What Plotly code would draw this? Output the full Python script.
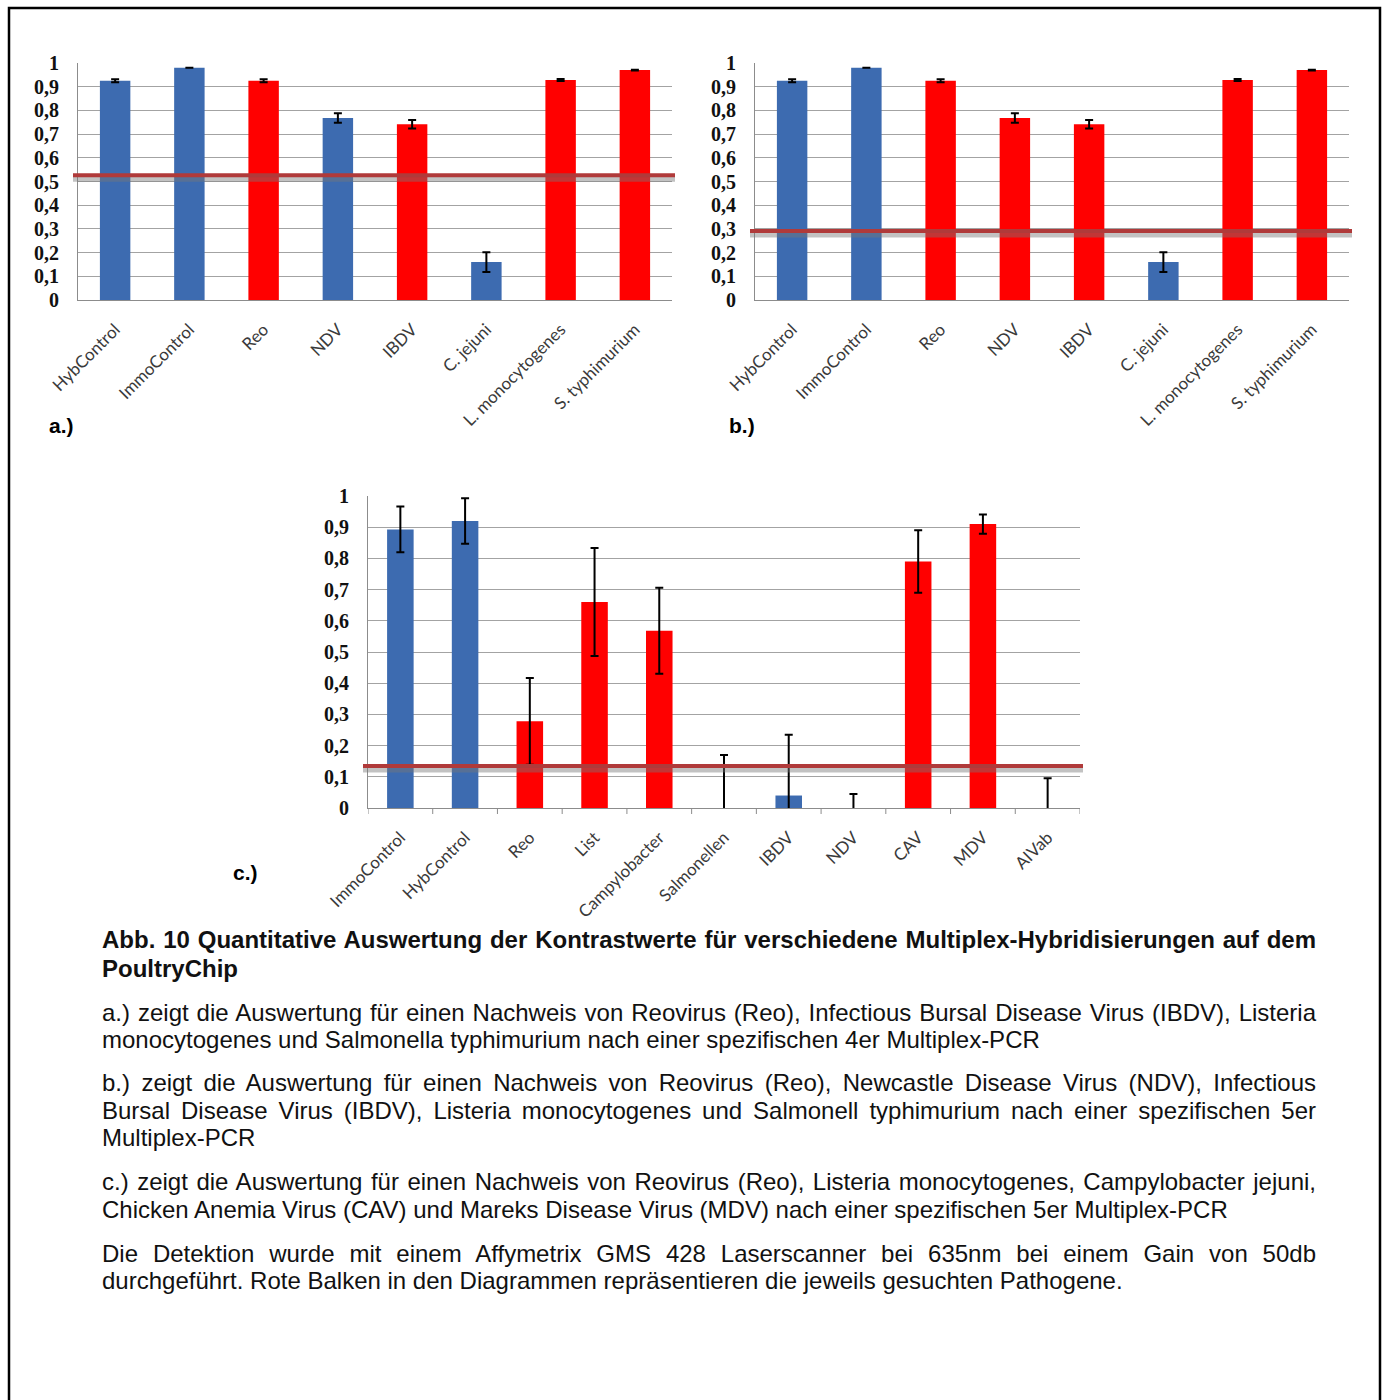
import json
import plotly.graph_objects as go

# ---------------------------------------------------------------- data
cats_ab = ["HybControl", "ImmoControl", "Reo", "NDV", "IBDV", "C. jejuni",
           "L. monocytogenes", "S. typhimurium"]
vals_a = [0.925, 0.980, 0.925, 0.768, 0.742, 0.160, 0.928, 0.970]
errs_a = [0.006, 0.0, 0.006, 0.020, 0.018, 0.042, 0.004, 0.002]
target_a = [False, False, True, False, True, False, True, True]

vals_b = [0.925, 0.980, 0.925, 0.768, 0.742, 0.160, 0.928, 0.970]
errs_b = [0.006, 0.0, 0.006, 0.020, 0.018, 0.042, 0.004, 0.002]
target_b = [False, False, True, True, True, False, True, True]

cats_c = ["ImmoControl", "HybControl", "Reo", "List", "Campylobacter",
          "Salmonellen", "IBDV", "NDV", "CAV", "MDV", "AIVab"]
vals_c = [0.893, 0.920, 0.278, 0.660, 0.568, 0.0, 0.040, 0.0, 0.790, 0.910, 0.0]
errs_c = [0.073, 0.073, 0.139, 0.173, 0.138, 0.170, 0.195, 0.045, 0.100, 0.031, 0.095]
target_c = [False, False, True, True, True, False, False, False, True, True, False]

thresholds = [0.526, 0.291, 0.135]

y_tickvals = [0, 0.1, 0.2, 0.3, 0.4, 0.5, 0.6, 0.7, 0.8, 0.9, 1]
y_ticktext = ["0", "0,1", "0,2", "0,3", "0,4", "0,5", "0,6", "0,7", "0,8", "0,9", "1"]

panel_labels = ["a.)", "b.)", "c.)"]

caption_title = [
    "Abb. 10 Quantitative Auswertung der Kontrastwerte für verschiedene Multiplex-Hybridisierungen auf dem",
    "PoultryChip",
]
caption_paragraphs = [
    ["a.) zeigt die Auswertung für einen Nachweis von Reovirus (Reo), Infectious Bursal Disease Virus (IBDV), Listeria",
     "monocytogenes und Salmonella typhimurium nach einer spezifischen 4er Multiplex-PCR"],
    ["b.) zeigt die Auswertung für einen Nachweis von Reovirus (Reo), Newcastle Disease Virus (NDV), Infectious",
     "Bursal Disease Virus (IBDV), Listeria monocytogenes und Salmonell typhimurium nach einer spezifischen 5er",
     "Multiplex-PCR"],
    ["c.) zeigt die Auswertung für einen Nachweis von Reovirus (Reo), Listeria monocytogenes, Campylobacter jejuni,",
     "Chicken Anemia Virus (CAV) und Mareks Disease Virus (MDV) nach einer spezifischen 5er Multiplex-PCR"],
    ["Die Detektion wurde mit einem Affymetrix GMS 428 Laserscanner bei 635nm bei einem Gain von 50db",
     "durchgeführt. Rote Balken in den Diagrammen repräsentieren die jeweils gesuchten Pathogene."],
]

# ---------------------------------------------------------------- layout helpers
W, H = 1383, 1400
BLUE = "#3D6BB0"
RED = "#FF0000"
LINE_RED = "#B03A3A"
GRID = "#A3A3A3"
AXIS = "#8C8C8C"
CAPTION_SIZE = 24


def fx(px):
    return px / W


def fy(py):
    return 1 - py / H


# plot boxes in pixels: (left, right, top, bottom)
boxes = [(78, 672, 63, 300), (755, 1349, 63, 300), (368, 1080, 496, 808)]
panels = [
    (cats_ab, vals_a, errs_a, target_a),
    (cats_ab, vals_b, errs_b, target_b),
    (cats_c, vals_c, errs_c, target_c),
]

fig = go.Figure()
shapes = []
annotations = []

for i, ((cats, vals, errs, tgt), (l, r, t, b)) in enumerate(zip(panels, boxes)):
    sfx = "" if i == 0 else str(i + 1)
    xa, ya = "x" + sfx, "y" + sfx
    fig.add_trace(go.Bar(
        x=list(range(len(cats))), y=vals,
        xaxis=xa, yaxis=ya,
        width=0.41,
        marker=dict(color=[RED if f else BLUE for f in tgt], line=dict(width=0)),
        error_y=dict(type="data", array=errs, visible=True, color="black",
                     thickness=2, width=4),
        showlegend=False, hoverinfo="skip",
    ))
    axis_common = dict(showline=True, linecolor=AXIS, linewidth=1, mirror=False,
                       automargin=False, fixedrange=True)
    fig.layout["xaxis" + sfx] = dict(
        domain=[fx(l), fx(r)], anchor=ya, range=[-0.5, len(cats) - 0.5],
        tickmode="array", tickvals=list(range(len(cats))), ticktext=cats,
        tickangle=-45, showgrid=False, zeroline=False,
        tickfont=dict(family="Lato", size=17, color="#3A3A3A"),
        ticks="", ticklabelstandoff=12, **axis_common,
    )
    fig.layout["yaxis" + sfx] = dict(
        domain=[fy(b), fy(t)], anchor=xa, range=[0, 1],
        tickmode="array", tickvals=y_tickvals, ticktext=y_ticktext,
        showgrid=True, gridcolor=GRID, gridwidth=1, zeroline=False,
        tickfont=dict(family="Liberation Serif", size=20, color="#111111", weight="bold"),
        ticks="", ticklabelstandoff=14, **axis_common,
    )
    # threshold line with soft grey shadow just below it
    thr = thresholds[i]
    px_per_unit = (b - t)
    shadow_off = 4.0 / px_per_unit
    shapes.append(dict(type="line", xref="paper", yref=ya,
                       x0=fx(l - 5), x1=fx(r + 3), y0=thr - shadow_off, y1=thr - shadow_off,
                       line=dict(color="rgba(120,120,120,0.45)", width=5), layer="above"))
    shapes.append(dict(type="line", xref="paper", yref=ya,
                       x0=fx(l - 5), x1=fx(r + 3), y0=thr, y1=thr,
                       line=dict(color=LINE_RED, width=4), layer="above"))

# category tick marks below panel c
l3, r3, t3, b3 = boxes[2]
n3 = len(cats_c)
for k in range(n3 + 1):
    shapes.append(dict(type="line", xref="x3", yref="paper",
                       x0=k - 0.5, x1=k - 0.5, y0=fy(b3), y1=fy(b3 + 6),
                       line=dict(color=AXIS, width=1)))

# page frame
shapes.append(dict(type="rect", xref="paper", yref="paper",
                   x0=fx(9), x1=fx(1380), y0=fy(1420), y1=fy(8),
                   line=dict(color="black", width=2.5), fillcolor="rgba(0,0,0,0)"))

# panel labels
for lab, (px, py) in zip(panel_labels, [(47, 425), (727, 425), (231, 872)]):
    annotations.append(dict(text=lab, xref="paper", yref="paper", x=fx(px), y=fy(py),
                            xanchor="left", yanchor="middle", showarrow=False,
                            font=dict(family="Liberation Sans", size=21, color="black",
                                      weight="bold")))

# caption
TEXT_LEFT, TEXT_RIGHT = 101, 1316
justified = []
line_rows = [[940, 968], [1012, 1039], [1082, 1110, 1137], [1181, 1209], [1253, 1280]]
blocks = [caption_title] + caption_paragraphs
for bi, (lines, rows) in enumerate(zip(blocks, line_rows)):
    for li, (txt, py) in enumerate(zip(lines, rows)):
        annotations.append(dict(text=txt, xref="paper", yref="paper", x=fx(TEXT_LEFT - 1),
                                y=fy(py), xanchor="left", yanchor="middle", align="left",
                                showarrow=False,
                                font=dict(family="Liberation Sans", size=CAPTION_SIZE,
                                          color="#111111",
                                          weight="bold" if bi == 0 else "normal")))
        if li < len(lines) - 1:
            justified.append(txt)

fig.update_layout(
    width=W, height=H, margin=dict(l=0, r=0, t=0, b=0, autoexpand=False),
    paper_bgcolor="white", plot_bgcolor="white",
    shapes=shapes, annotations=annotations, bargap=0.5,
)

# stretch the inter-word spacing of the full caption lines to the right text edge
justify_js = """
(function(){
  var gd = document.getElementById('{plot_id}');
  var lines = %s;
  var right = %d;
  function justify(){
    var nodes = gd.querySelectorAll('text.annotation-text');
    nodes.forEach(function(t){
      var s = (t.textContent || '').replace(/\\u00a0/g, ' ');
      if (lines.indexOf(s) < 0) return;
      t.style.wordSpacing = '0px';
      var left = t.getBoundingClientRect().left;
      var w = t.getComputedTextLength();
      var n = (s.match(/ /g) || []).length;
      if (n > 0) t.style.wordSpacing = ((right - left - w) / n) + 'px';
    });
  }
  justify();
  if (gd.on) gd.on('plotly_afterplot', justify);
  setTimeout(justify, 200);
})();
""" % (json.dumps(justified), TEXT_RIGHT)

fig.write_html("out.html", post_script=justify_js)
